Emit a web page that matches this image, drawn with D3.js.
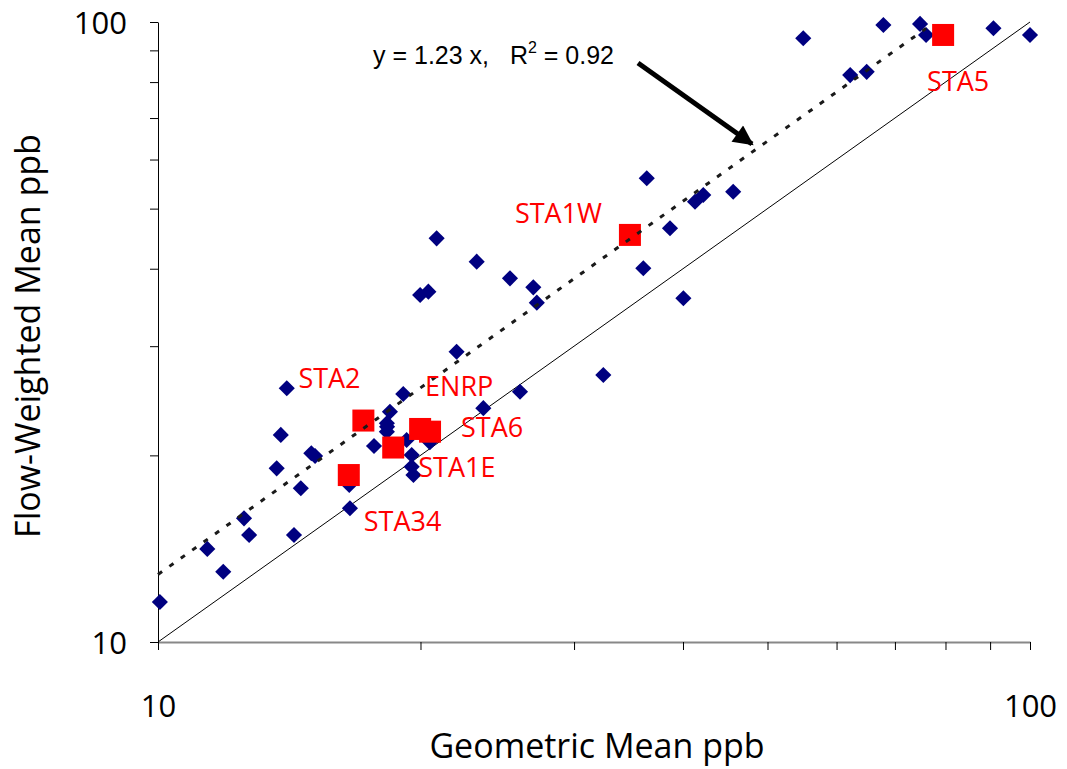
<!DOCTYPE html>
<html>
<head>
<meta charset="utf-8">
<script src="https://cdn.jsdelivr.net/npm/d3@7"></script>
<style>
  body { margin: 0; background: #fff; }
  svg { display: block; }
</style>
</head>
<body>
<div id="chart"></div>
<script>
// geometric mean (x) vs flow-weighted mean (y), ppb
const geoMean = [10.05, 11.88, 11.39, 12.55, 12.72, 14.32, 14.58, 13.68, 13.83, 14.99,
  15.14, 16.60, 16.57, 17.69, 18.31, 19.28, 19.54, 19.54, 19.63, 14.05,
  19.98, 20.42, 19.11, 18.45, 18.30, 18.30, 36.35, 42.20, 41.29, 45.67,
  38.65, 36.02, 40.04, 20.87, 23.20, 25.33, 26.94, 27.19, 22.00, 26.01,
  23.61, 32.41, 54.95, 67.9, 74.8, 76.0, 90.8, 100, 62.2, 64.97, 20.5];
const flowMean = [11.6, 12.98, 14.13, 15.83, 14.88, 14.88, 17.70, 19.06, 21.58, 20.16,
  19.95, 16.43, 17.92, 20.71, 22.25, 21.17, 20.03, 19.17, 18.59, 25.66,
  36.28, 36.73, 25.12, 23.52, 22.53, 21.84, 55.97, 52.6, 51.3, 53.24,
  46.48, 40.07, 35.84, 44.78, 41.06, 38.60, 37.33, 35.26, 29.39, 25.33,
  23.83, 26.95, 94.13, 98.9, 99.3, 95.3, 97.7, 95.3, 82.1, 83.1, 21.0];

const stationNames = ["STA2", "STA1E", "ENRP", "STA6", "STA34", "STA1W", "STA5"];
const stationGeo = [17.20, 18.61, 19.98, 20.51, 16.55, 34.77, 79.5];
const stationFlow = [22.76, 20.59, 22.06, 21.84, 18.59, 45.35, 95.3];

const tickValues = [10, 20, 30, 40, 50, 60, 70, 80, 90, 100];
const trendSlope = 1.285;
const trendRange = [10, 76];

// label placement relative to the square (px)
const labelOffset = {
  STA2: [-65, -33], STA1E: [25, 29], ENRP: [5, -33], STA6: [31, 5],
  STA34: [15, 56], STA1W: [-115, -12], STA5: [-16, 56]
};

const W = 1067, H = 769;
const svg = d3.select("#chart").append("svg")
  .attr("width", W).attr("height", H);

const x = d3.scaleLog().domain([10, 100]).range([158, 1030]);
const y = d3.scaleLog().domain([10, 100]).range([642, 22]);

// axes
const xAxis = svg.append("g")
  .attr("transform", `translate(0,${y(10)})`)
  .call(d3.axisBottom(x).tickValues(tickValues).tickSize(8).tickSizeOuter(0)
    .tickPadding(45).tickFormat(d => (d === 10 || d === 100) ? d : ""));
xAxis.select(".domain").attr("stroke", "#888").attr("stroke-width", 2);

const yAxis = svg.append("g")
  .attr("transform", `translate(${x(10)},0)`)
  .call(d3.axisLeft(y).tickValues(tickValues).tickSize(8).tickSizeOuter(0)
    .tickPadding(23).tickFormat(d => (d === 10 || d === 100) ? d : ""));
yAxis.selectAll(".tick text").attr("dy", "0.37em");

svg.selectAll(".tick text")
  .attr("font-family", "'Open Sans', sans-serif")
  .attr("font-size", 31)
  .attr("fill", "#000");

// axis titles
svg.append("text")
  .attr("x", (x(10) + x(100)) / 2 + 3)
  .attr("y", 758)
  .attr("text-anchor", "middle")
  .attr("font-family", "'Open Sans', sans-serif")
  .attr("font-size", 34)
  .text("Geometric Mean ppb");

svg.append("text")
  .attr("transform", `translate(40,${(y(10) + y(100)) / 2 + 4}) rotate(-90)`)
  .attr("text-anchor", "middle")
  .attr("font-family", "'Open Sans', sans-serif")
  .attr("font-size", 34)
  .text("Flow-Weighted Mean ppb");

// 1:1 line
svg.append("line")
  .attr("x1", x(10)).attr("y1", y(10))
  .attr("x2", x(100)).attr("y2", y(100))
  .attr("stroke", "#000").attr("stroke-width", 1);

// scatter
const pts = geoMean.map((g, i) => ({g, f: flowMean[i]}));
svg.append("g").selectAll("path")
  .data(pts)
  .enter()
  .append("path")
  .attr("d", d3.symbol().type(d3.symbolSquare).size(130))
  .attr("transform", d => `translate(${x(d.g)},${y(d.f)}) rotate(45)`)
  .attr("fill", "#000080");

const stations = stationNames.map((n, i) => ({n, g: stationGeo[i], f: stationFlow[i]}));
svg.append("g").selectAll("rect")
  .data(stations)
  .enter()
  .append("rect")
  .attr("x", d => x(d.g) - 11)
  .attr("y", d => y(d.f) - 11)
  .attr("width", 22)
  .attr("height", 22)
  .attr("fill", "#ff0000");

// trend line y = a x
const trend = d3.line().x(d => x(d)).y(d => y(d * trendSlope));
svg.append("path")
  .attr("d", trend(trendRange))
  .attr("fill", "none")
  .attr("stroke", "#1a1a1a")
  .attr("stroke-width", 3)
  .attr("stroke-dasharray", "5,9");

// station labels
svg.append("g").selectAll("text")
  .data(stations)
  .enter()
  .append("text")
  .attr("x", d => x(d.g) + labelOffset[d.n][0])
  .attr("y", d => y(d.f) + labelOffset[d.n][1])
  .attr("font-family", "'Open Sans', sans-serif")
  .attr("font-size", 27)
  .attr("fill", "#ff0000")
  .text(d => d.n);

// equation + arrow
const eq = svg.append("text")
  .attr("x", 373).attr("y", 64)
  .attr("font-family", "'Liberation Sans', Arial, sans-serif")
  .attr("font-size", 25)
  .attr("fill", "#000")
  .attr("xml:space", "preserve");
eq.append("tspan").text("y = 1.23 x,   R");
eq.append("tspan").attr("font-size", 16).attr("dy", -11).text("2");
eq.append("tspan").attr("dy", 11).text(" = 0.92");

svg.append("defs").append("marker")
  .attr("id", "head")
  .attr("viewBox", "0 0 10 10")
  .attr("refX", 9).attr("refY", 5)
  .attr("markerWidth", 5).attr("markerHeight", 4)
  .attr("markerUnits", "strokeWidth")
  .attr("orient", "auto")
  .append("path")
  .attr("d", "M0,0 L10,5 L0,10 Z")
  .attr("fill", "#000");

svg.append("line")
  .attr("x1", 638).attr("y1", 63)
  .attr("x2", 752).attr("y2", 144)
  .attr("stroke", "#000")
  .attr("stroke-width", 5)
  .attr("marker-end", "url(#head)");
</script>
</body>
</html>
